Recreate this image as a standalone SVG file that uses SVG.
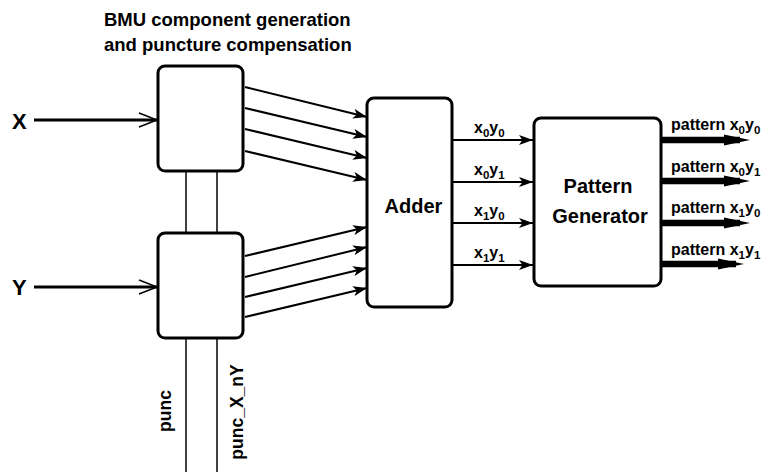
<svg xmlns="http://www.w3.org/2000/svg" width="768" height="472" viewBox="0 0 768 472">
  <style>
    .box { fill: #fff; stroke: #000; stroke-width: 3; }
    .lbl { font-family: "Liberation Sans", Arial, sans-serif; font-weight: bold; fill: #000; }
    .wire { stroke: #000; stroke-width: 2; fill: none; }
    .thin { stroke: #000; stroke-width: 1.5; fill: none; }
    .bus { stroke: #000; stroke-width: 6.5; fill: none; }
    .in { stroke: #000; stroke-width: 3; fill: none; }
    .chev { stroke: #000; stroke-width: 1.5; fill: none; }
  </style>
  <defs>
    <marker id="arr" viewBox="0 0 14 10" refX="14" refY="5" markerWidth="14" markerHeight="10" markerUnits="userSpaceOnUse" orient="auto">
      <path d="M0,0 L14,5 L0,10 L3.5,5 Z" fill="#000"/>
    </marker>
  </defs>
  <rect width="768" height="472" fill="#fff"/>

  <!-- title -->
  <text class="lbl" x="104" y="26" font-size="18.5">BMU component generation</text>
  <text class="lbl" x="104" y="51" font-size="18.5">and puncture compensation</text>

  <g id="connectors">
    <!-- inputs -->
    <line class="in" x1="34" y1="120" x2="157" y2="120"/>
    <polyline class="chev" points="139,113 157,120 139,127"/>
    <line class="in" x1="34" y1="287" x2="157" y2="287"/>
    <polyline class="chev" points="139,280 157,287 139,294"/>

    <!-- puncture signals -->
    <line class="thin" x1="186" y1="171" x2="186" y2="234"/>
    <line class="thin" x1="217" y1="171" x2="217" y2="234"/>
    <line class="thin" x1="186" y1="338" x2="186" y2="472"/>
    <line class="thin" x1="217" y1="338" x2="217" y2="472"/>

    <!-- BMU components to adder -->
    <line class="wire" x1="245" y1="87" x2="367" y2="117" marker-end="url(#arr)"/>
    <line class="wire" x1="245" y1="108" x2="367" y2="137" marker-end="url(#arr)"/>
    <line class="wire" x1="245" y1="129" x2="367" y2="158" marker-end="url(#arr)"/>
    <line class="wire" x1="245" y1="151" x2="367" y2="180" marker-end="url(#arr)"/>
    <line class="wire" x1="245" y1="256" x2="367" y2="227" marker-end="url(#arr)"/>
    <line class="wire" x1="245" y1="277" x2="367" y2="247" marker-end="url(#arr)"/>
    <line class="wire" x1="245" y1="297" x2="367" y2="268" marker-end="url(#arr)"/>
    <line class="wire" x1="245" y1="317" x2="367" y2="288" marker-end="url(#arr)"/>

    <!-- adder to pattern generator -->
    <line class="wire" x1="452" y1="140" x2="533" y2="140" marker-end="url(#arr)"/>
    <line class="wire" x1="452" y1="182" x2="533" y2="182" marker-end="url(#arr)"/>
    <line class="wire" x1="452" y1="223" x2="533" y2="223" marker-end="url(#arr)"/>
    <line class="wire" x1="452" y1="265" x2="533" y2="265" marker-end="url(#arr)"/>

    <!-- pattern outputs -->
    <line class="bus" x1="661" y1="140" x2="740" y2="140"/>
    <path d="M724,134.5 L750,140 L724,145.5 Z"/>
    <line class="bus" x1="661" y1="181" x2="740" y2="181"/>
    <path d="M724,175.5 L750,181 L724,186.5 Z"/>
    <line class="bus" x1="661" y1="223" x2="740" y2="223"/>
    <path d="M724,217.5 L750,223 L724,228.5 Z"/>
    <line class="bus" x1="661" y1="264" x2="736" y2="264"/>
    <path d="M718,258.5 L744,264 L718,269.5 Z"/>
  </g>

  <!-- connector labels -->
  <text class="lbl" x="12" y="129" font-size="22">X</text>
  <text class="lbl" x="12" y="295" font-size="22">Y</text>

  <text class="lbl" font-size="17.5" transform="translate(171,411) rotate(-90)" text-anchor="middle">punc</text>
  <text class="lbl" font-size="17.5" transform="translate(243,412) rotate(-90)" text-anchor="middle">punc_X_nY</text>

  <g class="lbl" font-size="16">
    <text x="474" y="133">x<tspan font-size="11.5" dy="4">0</tspan><tspan dy="-4">y</tspan><tspan font-size="11.5" dy="4">0</tspan></text>
    <text x="474" y="175">x<tspan font-size="11.5" dy="4">0</tspan><tspan dy="-4">y</tspan><tspan font-size="11.5" dy="4">1</tspan></text>
    <text x="474" y="216">x<tspan font-size="11.5" dy="4">1</tspan><tspan dy="-4">y</tspan><tspan font-size="11.5" dy="4">0</tspan></text>
    <text x="474" y="258">x<tspan font-size="11.5" dy="4">1</tspan><tspan dy="-4">y</tspan><tspan font-size="11.5" dy="4">1</tspan></text>

    <text x="671" y="130">pattern x<tspan font-size="11.5" dy="4">0</tspan><tspan dy="-4">y</tspan><tspan font-size="11.5" dy="4">0</tspan></text>
    <text x="671" y="172">pattern x<tspan font-size="11.5" dy="4">0</tspan><tspan dy="-4">y</tspan><tspan font-size="11.5" dy="4">1</tspan></text>
    <text x="671" y="213">pattern x<tspan font-size="11.5" dy="4">1</tspan><tspan dy="-4">y</tspan><tspan font-size="11.5" dy="4">0</tspan></text>
    <text x="671" y="255">pattern x<tspan font-size="11.5" dy="4">1</tspan><tspan dy="-4">y</tspan><tspan font-size="11.5" dy="4">1</tspan></text>
  </g>

  <!-- nodes -->
  <g id="bmu-x">
    <rect class="box" x="158" y="66" width="85" height="105" rx="7"/>
  </g>
  <g id="bmu-y">
    <rect class="box" x="158" y="233" width="85" height="105" rx="7"/>
  </g>
  <g id="adder">
    <rect class="box" x="367" y="98" width="85" height="209" rx="7"/>
    <text class="lbl" x="413.5" y="213" font-size="20" text-anchor="middle">Adder</text>
  </g>
  <g id="pattern-generator">
    <rect class="box" x="534" y="118" width="127" height="168" rx="7"/>
    <text class="lbl" x="598" y="193" font-size="20" text-anchor="middle">Pattern</text>
    <text class="lbl" x="600" y="223" font-size="20" text-anchor="middle">Generator</text>
  </g>
</svg>
